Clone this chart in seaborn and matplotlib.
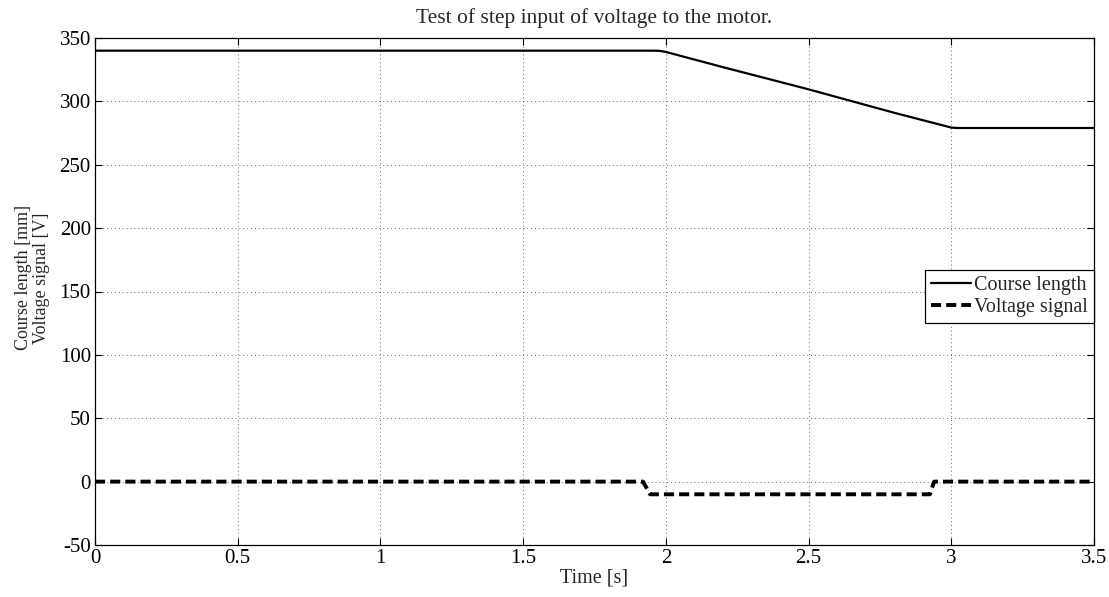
import numpy as np
import pandas as pd
import matplotlib
matplotlib.use("Agg")
import matplotlib.pyplot as plt
import seaborn as sns

# Data
t_course = [0, 1.96, 1.98, 2.0, 2.2, 2.5, 2.8, 2.98, 3.0, 3.02, 3.5]
course_len = [340, 340, 339.8, 339, 327, 309.5, 291, 280.5, 279.3, 279, 279]

t_volt = [0, 1.92, 1.945, 2.925, 2.94, 3.5]
volt_sig = [0, 0, -10, -10, 0, 0]

x_ticks = [0, 0.5, 1, 1.5, 2, 2.5, 3, 3.5]
x_tick_labels = ["0", "0.5", "1", "1.5", "2", "2.5", "3", "3.5"]
y_ticks = [-50, 0, 50, 100, 150, 200, 250, 300, 350]
y_tick_labels = ["-50", "0", "50", "100", "150", "200", "250", "300", "350"]

sns.set_theme(style="white")
plt.rcParams['font.family'] = ['Liberation Serif', 'DejaVu Serif']
plt.rcParams['axes.unicode_minus'] = False

fig = plt.figure(figsize=(11.09, 5.97), dpi=100)
ax = fig.add_axes([95/1109, 1 - 545/597, (1094-95)/1109, (545-38)/597])

df_c = pd.DataFrame({"t": t_course, "v": course_len})
df_v = pd.DataFrame({"t": t_volt, "v": volt_sig})
sns.lineplot(data=df_c, x="t", y="v", ax=ax, color="black", linewidth=1.6,
             label="Course length", estimator=None, sort=False)
sns.lineplot(data=df_v, x="t", y="v", ax=ax, color="black", linewidth=2.8,
             label="Voltage signal", estimator=None, sort=False)
ax.lines[1].set_dashes([2.6, 1.3])

ax.set_xlim(0, 3.5)
ax.set_ylim(-50, 350)
ax.set_xticks(x_ticks)
ax.set_xticklabels(x_tick_labels)
ax.set_yticks(y_ticks)
ax.set_yticklabels(y_tick_labels)
ax.tick_params(direction="in", length=5, width=0.8, colors="black", labelsize=15,
               top=True, right=True, bottom=True, left=True, pad=3)
ax.grid(True, linestyle=(0, (1, 3)), color="black", linewidth=0.7, alpha=0.6)
for s in ax.spines.values():
    s.set_color("black")
    s.set_linewidth(0.9)
    s.set_visible(True)

ax.set_xlabel("Time [s]", fontsize=14.5, labelpad=0)
ax.set_ylabel("Course length [mm]\nVoltage signal [V]", fontsize=13, linespacing=1.1)
ax.yaxis.set_label_coords(-0.045, 0.527)
ax.set_title("Test of step input of voltage to the motor.", fontsize=15.5, pad=11)

leg = ax.legend(loc="center right", bbox_to_anchor=(1.0, 0.49), fontsize=14.5,
                frameon=True, fancybox=False, edgecolor="black", framealpha=1,
                handlelength=2.0, handletextpad=0.15, borderpad=0.3, labelspacing=0.15,
                borderaxespad=0.0)
leg.get_frame().set_linewidth(0.9)

fig.savefig("out.png", dpi=100, facecolor="white")
